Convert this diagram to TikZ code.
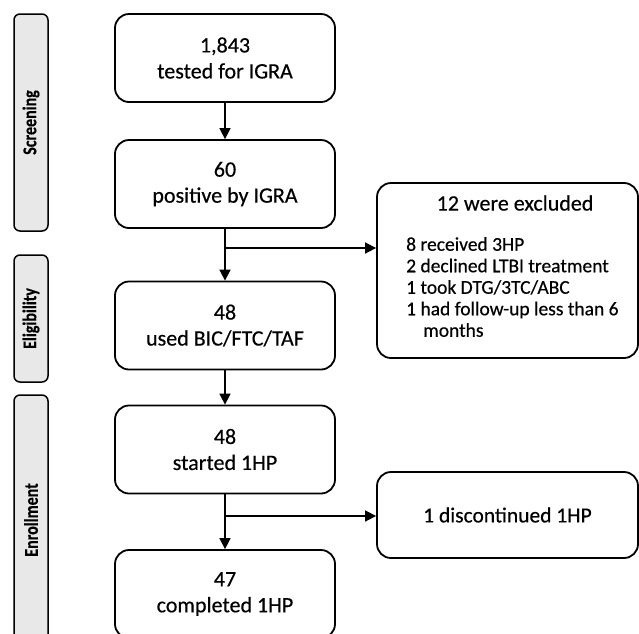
\documentclass[tikz,border=0pt]{standalone}
\usepackage{fontspec}
\setmainfont{Carlito}[FakeBold=0.4]
\usetikzlibrary{arrows.meta}
\begin{document}
\begin{tikzpicture}[x=1pt,y=-1pt,
  mainbox/.style={draw, line width=1.8pt, rounded corners=14pt, minimum width=220pt, minimum height=88pt, align=center, font=\fontsize{22}{26}\selectfont, inner sep=0pt},
  sidebox/.style={draw, line width=1.5pt, fill=gray!18, rounded corners=6pt, minimum height=34pt, inner sep=0pt, rotate=90, font=\bfseries\fontsize{19.5}{22}\selectfont},
  sidebig/.style={draw, line width=1.8pt, rounded corners=14pt, minimum width=261pt, inner sep=0pt},
  conn/.style={line width=1.6pt, -{Triangle[length=11pt,width=11pt]}},
]
\clip (0,0) rectangle (639,633);
\fill[white] (0,0) rectangle (639,633);
% side labels
\node[sidebox, minimum width=217pt] (scr) at (31,122.5) {\scalebox{0.82}[1]{Screening}};
\node[sidebox, minimum width=127pt] (eli) at (31,318.5) {\scalebox{0.82}[1]{Eligibility}};
\node[sidebox, minimum width=250pt] (enr) at (31,520) {\scalebox{0.82}[1]{Enrollment}};
% main boxes
\node[mainbox] (b1) at (225,58) {1,843\\tested for IGRA};
\node[mainbox] (b2) at (225,184) {60\\positive by IGRA};
\node[mainbox] (b3) at (225,325.5) {48\\used BIC/FTC/TAF};
\node[mainbox] (b4) at (225,449.5) {48\\started 1HP};
\node[mainbox] (b5) at (225,594) {47\\completed 1HP};
% side boxes
\node[sidebig, minimum height=175pt] (ex) at (507.5,270.5) {};
\node[font=\fontsize{22}{24}\selectfont, inner sep=0pt] (exh) at (515,203) {12 were excluded};
\node[font=\fontsize{19.5}{21.5}\selectfont, align=left, anchor=north west, inner sep=0pt] (exl) at (406,237) {8 received 3HP\\2 declined LTBI treatment\\1 took DTG/3TC/ABC\\1 had follow-up less than 6\\\hspace*{17pt}months};
\node[sidebig, minimum height=86pt, font=\fontsize{21.5}{24}\selectfont] (dc) at (507.5,515) {1 discontinued 1HP};
% connectors
\draw[conn] (b1.south) -- (b2.north);
\draw[conn] (b2.south) -- (b3.north);
\draw[conn] (b3.south) -- (b4.north);
\draw[conn] (b4.south) -- (b5.north);
\coordinate (j1) at (225,248);
\coordinate (j2) at (225,516);
\draw[conn] (j1) -- (ex.west |- j1);
\draw[conn] (j2) -- (dc.west |- j2);
\end{tikzpicture}
\end{document}
